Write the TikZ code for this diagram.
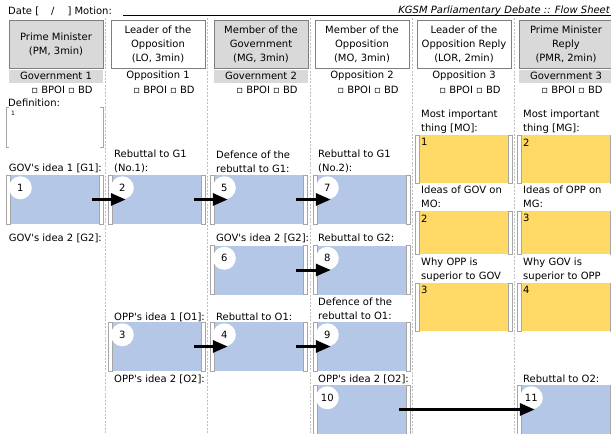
\documentclass[tikz,border=0pt]{standalone}
\usepackage{fontspec}
\setmainfont{DejaVu Sans}[Ligatures=TeXOff]
\usetikzlibrary{arrows.meta,positioning}

\definecolor{hdgray}{HTML}{D9D9D9}
\definecolor{edgegray}{HTML}{7F7F7F}
\definecolor{slotblue}{HTML}{B4C7E7}
\definecolor{slotyellow}{HTML}{FFD966}
\definecolor{rulegray}{HTML}{BFBFBF}
\definecolor{bracketgray}{HTML}{A6A6A6}

\tikzset{
  speaker/.style={draw=edgegray, line width=0.8pt, minimum width=94pt, minimum height=48pt, inner sep=0pt, align=center},
  govspeaker/.style={speaker, fill=hdgray},
  oppspeaker/.style={speaker, fill=white},
  side/.style={minimum width=94pt, minimum height=13pt, inner sep=0pt},
  govside/.style={side, fill=hdgray},
  vote/.style={minimum height=13pt, inner sep=0pt, xshift=6pt},
  tag/.style={anchor=west, inner sep=0pt, align=left},
  slot/.style={minimum width=89pt, inner sep=0pt},
  blueslot/.style={slot, fill=slotblue, minimum height=49pt},
  yellowslot/.style={slot, fill=slotyellow},
  bracketline/.style={draw=bracketgray, fill=white, line width=0.5pt},
  num/.style={circle, fill=white, minimum size=23pt, inner sep=0pt},
  flow/.style={line width=3pt, -{Triangle[length=15pt,width=12pt]}, shorten <=-7pt, shorten >=-14pt},
  divider/.style={draw=rulegray, line width=0.5pt, dash pattern=on 2pt off 1.5pt}
}

\begin{document}
\begin{tikzpicture}[x=1pt, y=-1pt, font=\fontsize{10}{14}\selectfont]
  \useasboundingbox (0,0) rectangle (611,434);

  % heading line
  \node[tag] (date) at (8,11.5) {Date [\hspace{12pt}/\hspace{13pt}] Motion:};
  \node[anchor=east, inner sep=0pt, font=\fontsize{10}{12}\selectfont\itshape] (title) at (610,11) {KGSM Parliamentary Debate :: Flow Sheet};
  \draw[line width=0.6pt] (123,15.5) -- (611,15.5);

  % columns
  \foreach \x in {105,207,310.5,412.5,514}
    \draw[divider] (\x,18) -- (\x,434);

  % speakers
  \node[govspeaker] (pm)  at (56,44)  {Prime Minister\\(PM, 3min)};
  \node[oppspeaker] (lo)  at (158,44) {Leader of the\\Opposition\\(LO, 3min)};
  \node[govspeaker] (mg)  at (261,44) {Member of the\\Government\\(MG, 3min)};
  \node[oppspeaker] (mo)  at (362,44) {Member of the\\Opposition\\(MO, 3min)};
  \node[oppspeaker] (lor) at (464,44) {Leader of the\\Opposition Reply\\(LOR, 2min)};
  \node[govspeaker] (pmr) at (566,44) {Prime Minister\\Reply\\(PMR, 2min)};

  \node[govside, below=1pt of pm]  (pmside)  {Government 1};
  \node[side,    below=1pt of lo]  (loside)  {Opposition 1};
  \node[govside, below=1pt of mg]  (mgside)  {Government 2};
  \node[side,    below=1pt of mo]  (moside)  {Opposition 2};
  \node[side,    below=1pt of lor] (lorside) {Opposition 3};
  \node[govside, below=1pt of pmr] (pmrside) {Government 3};

  \node[vote, below=0pt of pmside]  (pmvote)  {▫ BPOI ▫ BD};
  \node[vote, below=0pt of loside]  (lovote)  {▫ BPOI ▫ BD};
  \node[vote, below=0pt of mgside]  (mgvote)  {▫ BPOI ▫ BD};
  \node[vote, below=0pt of moside]  (movote)  {▫ BPOI ▫ BD};
  \node[vote, below=0pt of lorside] (lorvote) {▫ BPOI ▫ BD};
  \node[vote, below=0pt of pmrside] (pmrvote) {▫ BPOI ▫ BD};

  % definition
  \node[tag] (deflabel) at (8,103) {Definition:};
  \node[slot, minimum height=40pt] (def) at (54.5,127) {};
  \draw[draw=bracketgray, line width=0.5pt] ([xshift=-0.5pt]def.north west) -- ([xshift=-4pt]def.north west) -- ([xshift=-4pt]def.south west) -- ([xshift=-0.5pt]def.south west);
  \draw[draw=bracketgray, line width=0.5pt] ([xshift=0.5pt]def.north east) -- ([xshift=4pt]def.north east) -- ([xshift=4pt]def.south east) -- ([xshift=0.5pt]def.south east);
  \node[tag, font=\fontsize{6}{6}\selectfont] (defnum) at (11,113) {1};

  % labels
  \node[tag, anchor=east] (g1tag) at (102,168) {GOV's idea 1 [G1]:};
  \node[tag] (r1tag)  at (114,161.5) {Rebuttal to G1\\(No.1):};
  \node[tag] (d1tag)  at (216,161.5) {Defence of the\\rebuttal to G1:};
  \node[tag] (r1btag) at (318,161.5) {Rebuttal to G1\\(No.2):};
  \node[tag, anchor=east] (g2tag) at (102,238) {GOV's idea 2 [G2]:};
  \node[tag] (g2btag) at (216,238) {GOV's idea 2 [G2]:};
  \node[tag] (r2tag)  at (318,238) {Rebuttal to G2:};
  \node[tag] (o1tag)  at (114,317) {OPP's idea 1 [O1]:};
  \node[tag] (ro1tag) at (216,317) {Rebuttal to O1:};
  \node[tag] (do1tag) at (318,309) {Defence of the\\rebuttal to O1:};
  \node[tag] (o2tag)  at (114,379) {OPP's idea 2 [O2]:};
  \node[tag] (o2btag) at (318,379) {OPP's idea 2 [O2]:};
  \node[tag] (ro2tag) at (523,379) {Rebuttal to O2:};

  \node[tag] (lorAtag) at (421,122) {Most important\\thing [MO]:};
  \node[tag] (lorBtag) at (421,197) {Ideas of GOV on\\MO:};
  \node[tag] (lorCtag) at (421,270) {Why OPP is\\superior to GOV};
  \node[tag] (pmrAtag) at (523,122) {Most important\\thing [MG]:};
  \node[tag] (pmrBtag) at (523,197) {Ideas of OPP on\\MG:};
  \node[tag] (pmrCtag) at (523,270) {Why GOV is\\superior to OPP};

  % argument slots
  \node[blueslot] (s1)  at (54.5,199.5)  {};
  \node[blueslot] (s2)  at (156.5,199.5) {};
  \node[blueslot] (s5)  at (258.5,199.5) {};
  \node[blueslot] (s7)  at (361.5,199.5) {};
  \node[blueslot] (s6)  at (258.5,270)   {};
  \node[blueslot] (s8)  at (361.5,270)   {};
  \node[blueslot] (s3)  at (156.5,346.5) {};
  \node[blueslot] (s4)  at (258.5,346.5) {};
  \node[blueslot] (s9)  at (361.5,346.5) {};
  \node[blueslot] (s10) at (361.5,409.5) {};
  \node[blueslot] (s11) at (565.5,409.5) {};

  % summary slots
  \node[yellowslot, minimum height=48pt] (lorA) at (463.5,159)   {};
  \node[yellowslot, minimum height=43pt] (lorB) at (463.5,232.5) {};
  \node[yellowslot, minimum height=48pt] (lorC) at (463.5,307)   {};
  \node[yellowslot, minimum height=48pt] (pmrA) at (565.5,159)   {};
  \node[yellowslot, minimum height=43pt] (pmrB) at (565.5,232.5) {};
  \node[yellowslot, minimum height=48pt] (pmrC) at (565.5,307)   {};

  \foreach \s in {s1,s2,s3,s4,s5,s6,s7,s8,s9,s10,s11,lorA,lorB,lorC,pmrA,pmrB,pmrC}{
    \draw[bracketline] (\s.north west) rectangle ([xshift=-4pt]\s.south west);
    \draw[bracketline] (\s.north east) rectangle ([xshift=4pt]\s.south east);
  }

  \node[tag] (lorAnum) at ([xshift=2pt,yshift=-7.5pt]lorA.north west) {1};
  \node[tag] (lorBnum) at ([xshift=2pt,yshift=-7.5pt]lorB.north west) {2};
  \node[tag] (lorCnum) at ([xshift=2pt,yshift=-7.5pt]lorC.north west) {3};
  \node[tag] (pmrAnum) at ([xshift=2pt,yshift=-7.5pt]pmrA.north west) {2};
  \node[tag] (pmrBnum) at ([xshift=2pt,yshift=-7.5pt]pmrB.north west) {3};
  \node[tag] (pmrCnum) at ([xshift=2pt,yshift=-7.5pt]pmrC.north west) {4};

  % order numbers
  \node[num] (c1)  at ([xshift=10.5pt,yshift=-13pt]s1.north west)  {1};
  \node[num] (c2)  at ([xshift=10.5pt,yshift=-13pt]s2.north west)  {2};
  \node[num] (c3)  at ([xshift=10.5pt,yshift=-13pt]s3.north west)  {3};
  \node[num] (c4)  at ([xshift=10.5pt,yshift=-13pt]s4.north west)  {4};
  \node[num] (c5)  at ([xshift=10.5pt,yshift=-13pt]s5.north west)  {5};
  \node[num] (c6)  at ([xshift=10.5pt,yshift=-13pt]s6.north west)  {6};
  \node[num] (c7)  at ([xshift=10.5pt,yshift=-13pt]s7.north west)  {7};
  \node[num] (c8)  at ([xshift=10.5pt,yshift=-13pt]s8.north west)  {8};
  \node[num] (c9)  at ([xshift=10.5pt,yshift=-13pt]s9.north west)  {9};
  \node[num] (c10) at ([xshift=10.5pt,yshift=-13pt]s10.north west) {10};
  \node[num] (c11) at ([xshift=10.5pt,yshift=-13pt]s11.north west) {11};

  % flow of the debate
  \draw[flow] (s1) -- (s2);
  \draw[flow] (s2) -- (s5);
  \draw[flow] (s5) -- (s7);
  \draw[flow] (s6) -- (s8);
  \draw[flow] (s3) -- (s4);
  \draw[flow] (s4) -- (s9);
  \draw[flow] (s10) -- (s11);
\end{tikzpicture}
\end{document}
